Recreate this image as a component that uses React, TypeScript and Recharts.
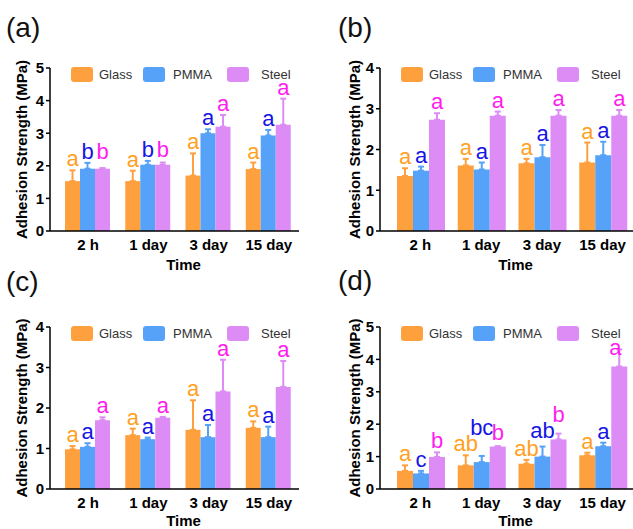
import React from 'react';
import { BarChart, Bar, XAxis, YAxis, ErrorBar, LabelList, Legend } from 'recharts';

const FONT = '"Liberation Sans", Arial, Helvetica, sans-serif';

const categories = ['2 h', '1 day', '3 day', '15 day'];
const seriesNames = ['Glass', 'PMMA', 'Steel'];

// Panel (a)
const aGlass = [1.53, 1.53, 1.70, 1.90];
const aGlassErr = [0.33, 0.32, 0.68, 0.20];
const aPmma = [1.91, 2.03, 3.00, 2.93];
const aPmmaErr = [0.18, 0.12, 0.12, 0.17];
const aSteel = [1.91, 2.03, 3.20, 3.26];
const aSteelErr = [0.02, 0.07, 0.36, 0.80];
const aGlassLetters = ['a', 'a', 'a', 'a'];
const aPmmaLetters = ['b', 'b', 'a', 'a'];
const aSteelLetters = ['b', 'b', 'a', 'a'];
const aTicks = [0, 1, 2, 3, 4, 5];

// Panel (b)
const bGlass = [1.35, 1.61, 1.66, 1.68];
const bGlassErr = [0.19, 0.16, 0.11, 0.49];
const bPmma = [1.48, 1.51, 1.81, 1.86];
const bPmmaErr = [0.10, 0.17, 0.30, 0.33];
const bSteel = [2.73, 2.83, 2.83, 2.83];
const bSteelErr = [0.16, 0.10, 0.14, 0.14];
const bGlassLetters = ['a', 'a', 'a', 'a'];
const bPmmaLetters = ['a', 'a', 'a', 'a'];
const bSteelLetters = ['a', 'a', 'a', 'a'];
const bTicks = [0, 1, 2, 3, 4];

// Panel (c)
const cGlass = [0.98, 1.33, 1.46, 1.51];
const cGlassErr = [0.08, 0.16, 0.73, 0.16];
const cPmma = [1.04, 1.23, 1.28, 1.28];
const cPmmaErr = [0.09, 0.04, 0.30, 0.26];
const cSteel = [1.70, 1.76, 2.41, 2.52];
const cSteelErr = [0.07, 0.02, 0.78, 0.64];
const cGlassLetters = ['a', 'a', 'a', 'a'];
const cPmmaLetters = ['a', 'a', 'a', 'a'];
const cSteelLetters = ['a', 'a', 'a', 'a'];
const cTicks = [0, 1, 2, 3, 4];

// Panel (d)
const dGlass = [0.56, 0.73, 0.78, 1.04];
const dGlassErr = [0.17, 0.31, 0.12, 0.08];
const dPmma = [0.48, 0.83, 1.00, 1.32];
const dPmmaErr = [0.08, 0.19, 0.31, 0.11];
const dSteel = [0.99, 1.31, 1.53, 3.78];
const dSteelErr = [0.14, 0.01, 0.18, 0.53];
const dGlassLetters = ['a', 'ab', 'ab', 'a'];
const dPmmaLetters = ['c', 'bc', 'ab', 'a'];
const dSteelLetters = ['b', 'b', 'b', 'a'];
const dTicks = [0, 1, 2, 3, 4, 5];

const BAR_COLORS = ['#FFA03E', '#55A2F8', '#DC8CF4'];
const LETTER_COLORS = ['#FFA01E', '#1414E4', '#FF1CEE'];

// small label nudges (px) for hand-placed significance letters, [dx, lift]
const NO_NUDGE = [[0, 0], [0, 0], [0, 0], [0, 0]];
const D_PMMA_NUDGE = [[0, 0], [0, 17], [0, 5], [0, 0]];
const D_STEEL_NUDGE = [[0, 0], [0, 2], [0, 8], [-4, -10]];
const A_NUDGE = [[0, 5], [0, 2], [0, 0], [0, 0]];

type PanelSpec = {
  glass: number[]; glassErr: number[]; glassL: string[];
  pmma: number[]; pmmaErr: number[]; pmmaL: string[];
  steel: number[]; steelErr: number[]; steelL: string[];
  ticks: number[];
  nudges?: number[][][];
};

function buildRows(p: PanelSpec) {
  return categories.map((cat, i) => ({
    cat,
    Glass: p.glass[i], glassErr: [0, p.glassErr[i]], glassL: p.glassL[i],
    PMMA: p.pmma[i], pmmaErr: [0, p.pmmaErr[i]], pmmaL: p.pmmaL[i],
    Steel: p.steel[i], steelErr: [0, p.steelErr[i]], steelL: p.steelL[i],
  }));
}

const makeLetter = (vals: number[], errs: number[], color: string, nudge: number[][]) => (props: any) => {
  const vb = props.viewBox && typeof props.viewBox.x === 'number' ? props.viewBox : props;
  const x = Number(vb.x), y = Number(vb.y), w = Number(vb.width), h = Number(vb.height);
  const i = props.index;
  const v = vals[i];
  const perUnit = v ? h / v : 0;
  const top = y - errs[i] * perUnit;
  const n = nudge[i] || [0, 0];
  return (
    <text x={x + w / 2 + n[0]} y={top - 4 - n[1]} textAnchor="middle" fill={color} fontSize={22} fontFamily={FONT}>
      {props.value}
    </text>
  );
};

const SWATCH_X = [21, 93, 177];
const TEXT_X = [49, 123, 211];

const LegendContent = (props: any) => {
  const payload = props.payload || [];
  return (
    <div style={{ position: 'relative', width: 250, height: 16 }}>
      {payload.map((p: any, i: number) => (
        <React.Fragment key={p.value}>
          <div style={{ position: 'absolute', left: SWATCH_X[i], top: 0, width: 22, height: 15, background: p.color, borderRadius: 3 }} />
          <span style={{ position: 'absolute', left: TEXT_X[i], top: 0, lineHeight: '15px', fontSize: 13, fontFamily: FONT, color: '#333', whiteSpace: 'nowrap' }}>
            {p.value}
          </span>
        </React.Fragment>
      ))}
    </div>
  );
};

type ChartProps = {
  spec: PanelSpec; width: number; height: number; top: number; right: number; bottom: number;
  yWidth: number; padLeft: number; yLabelOffset: number; timeOffset: number;
};

function Panel({ spec, width, height, top, right, bottom, yWidth, padLeft, yLabelOffset, timeOffset }: ChartProps) {
  const rows = buildRows(spec);
  const ymax = spec.ticks[spec.ticks.length - 1];
  const nudges = spec.nudges || [NO_NUDGE, NO_NUDGE, NO_NUDGE];
  const keys = [
    { k: 'Glass', e: 'glassErr', l: 'glassL', vals: spec.glass, errs: spec.glassErr },
    { k: 'PMMA', e: 'pmmaErr', l: 'pmmaL', vals: spec.pmma, errs: spec.pmmaErr },
    { k: 'Steel', e: 'steelErr', l: 'steelL', vals: spec.steel, errs: spec.steelErr },
  ];
  return (
    <BarChart width={width} height={height} data={rows}
      margin={{ top, right, bottom, left: 0 }} barCategoryGap={7} barGap={0}>
      <XAxis dataKey="cat" tickLine={false} interval={0} height={40} tickSize={6} tickMargin={2}
        padding={{ left: padLeft, right: 0 }}
        axisLine={{ stroke: '#000', strokeWidth: 1.5 }}
        tick={{ fontSize: 15, fontWeight: 'bold', fill: '#000', fontFamily: FONT }}
        label={{ value: 'Time', position: 'insideBottom', offset: timeOffset, dx: 9,
          style: { fontSize: 15, fontWeight: 'bold', fill: '#000', fontFamily: FONT } }} />
      <YAxis width={yWidth} domain={[0, ymax]} ticks={spec.ticks} interval={0} tickSize={4} tickMargin={2}
        axisLine={{ stroke: '#000', strokeWidth: 1.5 }}
        tickLine={{ stroke: '#000', strokeWidth: 1.5 }}
        tick={{ fontSize: 15, fontWeight: 'bold', fill: '#000', fontFamily: FONT }}
        label={{ value: 'Adhesion Strength (MPa)', angle: -90, position: 'insideLeft', offset: yLabelOffset,
          style: { textAnchor: 'middle', fontSize: 15, fontWeight: 'bold', fill: '#000', fontFamily: FONT } }} />
      <Legend layout="horizontal" verticalAlign="middle" align="center" content={<LegendContent />}
        wrapperStyle={{ position: 'absolute', left: yWidth, top: top - 1, width: 250, height: 16 }} />
      {keys.map((s, i) => (
        <Bar key={s.k} dataKey={s.k} name={seriesNames[i]} fill={BAR_COLORS[i]} isAnimationActive={false}>
          <ErrorBar dataKey={s.e} width={3} strokeWidth={2} stroke={BAR_COLORS[i]} direction="y" isAnimationActive={false} />
          <LabelList dataKey={s.l} content={makeLetter(s.vals, s.errs, LETTER_COLORS[i], nudges[i])} />
        </Bar>
      ))}
    </BarChart>
  );
}

const specA: PanelSpec = { glass: aGlass, glassErr: aGlassErr, glassL: aGlassLetters, pmma: aPmma, pmmaErr: aPmmaErr, pmmaL: aPmmaLetters, steel: aSteel, steelErr: aSteelErr, steelL: aSteelLetters, ticks: aTicks, nudges: [NO_NUDGE, NO_NUDGE, A_NUDGE] };
const specB: PanelSpec = { glass: bGlass, glassErr: bGlassErr, glassL: bGlassLetters, pmma: bPmma, pmmaErr: bPmmaErr, pmmaL: bPmmaLetters, steel: bSteel, steelErr: bSteelErr, steelL: bSteelLetters, ticks: bTicks };
const specC: PanelSpec = { glass: cGlass, glassErr: cGlassErr, glassL: cGlassLetters, pmma: cPmma, pmmaErr: cPmmaErr, pmmaL: cPmmaLetters, steel: cSteel, steelErr: cSteelErr, steelL: cSteelLetters, ticks: cTicks };
const specD: PanelSpec = { glass: dGlass, glassErr: dGlassErr, glassL: dGlassLetters, pmma: dPmma, pmmaErr: dPmmaErr, pmmaL: dPmmaLetters, steel: dSteel, steelErr: dSteelErr, steelL: dSteelLetters, ticks: dTicks, nudges: [NO_NUDGE, D_PMMA_NUDGE, D_STEEL_NUDGE] };

export default function App() {
  return (
    <div style={{ position: 'absolute', left: 0, top: 0, width: 633, height: 529, background: '#fff', overflow: 'hidden', fontFamily: FONT }}>
      <div style={{ position: 'absolute', left: 0, top: 0 }}>
        <Panel spec={specA} width={316} height={280} top={68} right={17} bottom={9} yWidth={50} padLeft={8} yLabelOffset={22} timeOffset={1} />
      </div>
      <div style={{ position: 'absolute', left: 316, top: 0 }}>
        <Panel spec={specB} width={317} height={280} top={68} right={0} bottom={9} yWidth={64} padLeft={10} yLabelOffset={38.5} timeOffset={1} />
      </div>
      <div style={{ position: 'absolute', left: 0, top: 260 }}>
        <Panel spec={specC} width={316} height={269} top={67} right={17} bottom={0} yWidth={50} padLeft={8} yLabelOffset={22} timeOffset={3} />
      </div>
      <div style={{ position: 'absolute', left: 316, top: 260 }}>
        <Panel spec={specD} width={317} height={269} top={67} right={0} bottom={0} yWidth={64} padLeft={10} yLabelOffset={38.5} timeOffset={3} />
      </div>
      <svg width={633} height={529} style={{ position: 'absolute', left: 0, top: 0, pointerEvents: 'none' }}>
        <text x={6} y={37} fontSize={28} fontFamily={FONT} fill="#111">(a)</text>
        <text x={338} y={37} fontSize={28} fontFamily={FONT} fill="#111">(b)</text>
        <text x={6} y={291} fontSize={28} fontFamily={FONT} fill="#111">(c)</text>
        <text x={338} y={290} fontSize={28} fontFamily={FONT} fill="#111">(d)</text>
      </svg>
    </div>
  );
}
